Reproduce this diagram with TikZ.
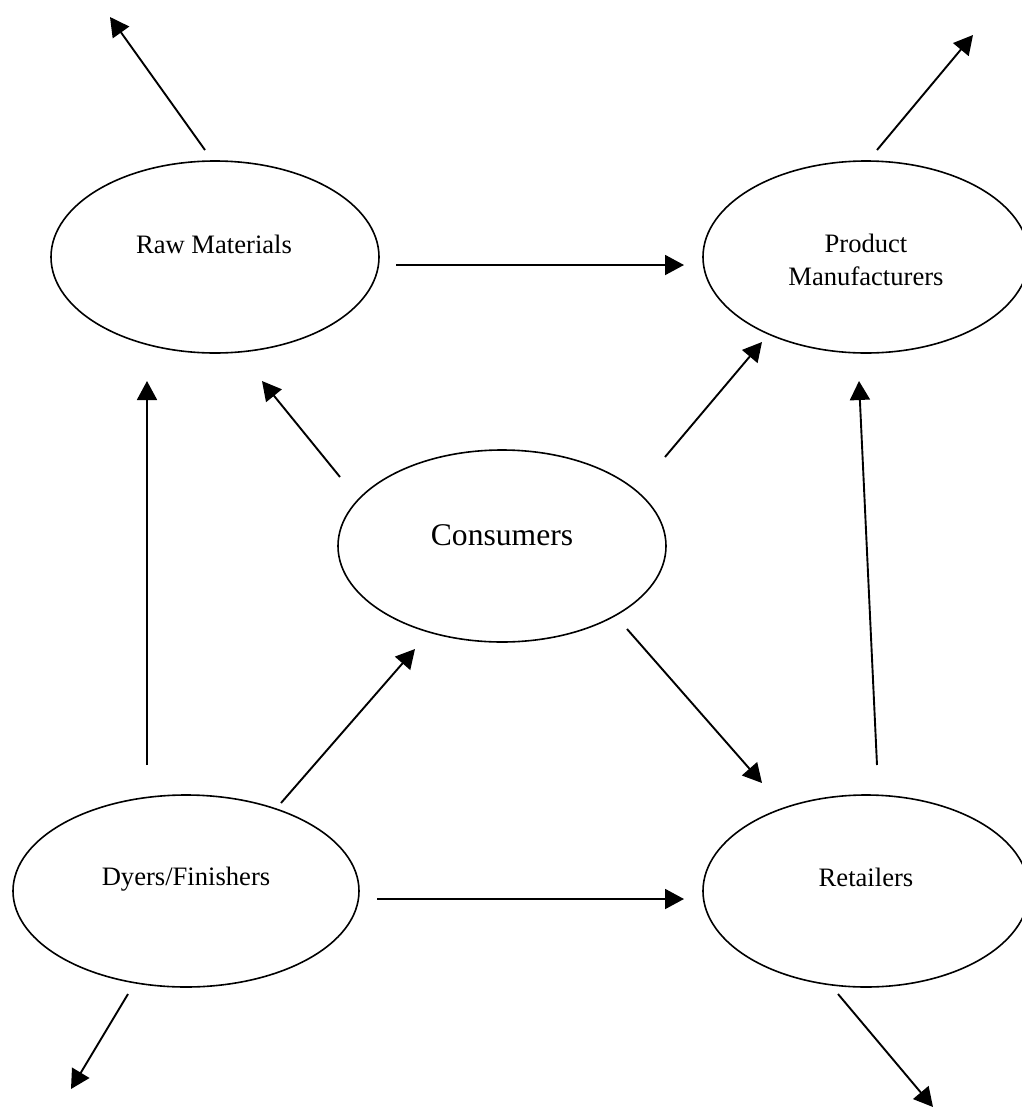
\documentclass[tikz,border=0pt]{standalone}
\usepackage{fontspec}
\setmainfont{Liberation Serif}
\usetikzlibrary{shapes.geometric,arrows.meta}
\begin{document}
\begin{tikzpicture}[x=1pt,y=-1pt,
  bubble/.style={draw, ellipse, line width=1.6pt, inner sep=0pt},
  lbl/.style={font=\fontsize{26.6}{33}\selectfont, anchor=base, inner sep=0pt},
  big/.style={font=\fontsize{31.6}{38}\selectfont, anchor=base, inner sep=0pt},
  flow/.style={line width=1.9pt, -{Triangle[length=19pt,width=20pt]}}]
\useasboundingbox (0,0) rectangle (1021,1109);
% ellipses
\node[bubble, minimum width=328pt, minimum height=192pt] (rm) at (215,257) {};
\node[bubble, minimum width=326pt, minimum height=192pt] (pm) at (866,257) {};
\node[bubble, minimum width=328pt, minimum height=192pt] (co) at (502,546) {};
\node[bubble, minimum width=346pt, minimum height=192pt] (df) at (186,891) {};
\node[bubble, minimum width=326pt, minimum height=192pt] (re) at (866,891) {};
% labels
\node[lbl] (rmt) at (214,253) {Raw Materials};
\node[lbl] (pmt1) at (866,252) {Product};
\node[lbl] (pmt2) at (866,285) {Manufacturers};
\node[big] (cot) at (502,545) {Consumers};
\node[lbl] (dft) at (186,885) {Dyers/Finishers};
\node[lbl] (ret) at (866,886) {Retailers};
% arrow end points
\coordinate (a1s) at (205,150);  \coordinate (a1e) at (110,17);
\coordinate (a2s) at (877,150);  \coordinate (a2e) at (973,35);
\coordinate (a3s) at (396,265);  \coordinate (a3e) at (684,265);
\coordinate (a4s) at (147,765);  \coordinate (a4e) at (147,381);
\coordinate (a5s) at (340,477);  \coordinate (a5e) at (262,381);
\coordinate (a6s) at (665,457);  \coordinate (a6e) at (762,342);
\coordinate (a7s) at (877,765);  \coordinate (a7e) at (859,381);
\coordinate (a8s) at (281,803);  \coordinate (a8e) at (415,649);
\coordinate (a9s) at (627,629);  \coordinate (a9e) at (762,783);
\coordinate (a10s) at (377,899); \coordinate (a10e) at (684,899);
\coordinate (a11s) at (128,994); \coordinate (a11e) at (71,1089);
\coordinate (a12s) at (838,994); \coordinate (a12e) at (933,1107);
% arrows
\foreach \i in {1,...,12} {
  \draw[flow] (a\i s) -- (a\i e);
}
\end{tikzpicture}
\end{document}
